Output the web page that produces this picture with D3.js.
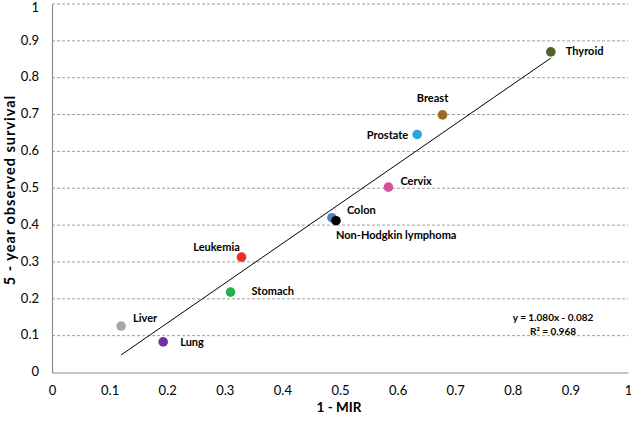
<!DOCTYPE html>
<html><head><meta charset="utf-8">
<script src="https://cdn.jsdelivr.net/npm/d3@7"></script>
<style>body{margin:0;background:#fff}svg{display:block}</style>
</head><body>
<svg id="c" width="631" height="422"></svg>
<script>
const cancers = ["Thyroid","Breast","Prostate","Cervix","Colon","Non-Hodgkin lymphoma","Leukemia","Stomach","Liver","Lung"];
const oneMinusMIR = [0.866,0.678,0.634,0.584,0.486,0.493,0.329,0.310,0.120,0.193];
const survival = [0.870,0.699,0.646,0.503,0.420,0.412,0.313,0.218,0.126,0.083];
const colors = ["#4f6228","#9c6a26","#2aa7e0","#d9509c","#4f81bd","#000000","#ee2c2c","#22b14c","#a6a6a6","#7030a0"];
const ticks = [0,0.1,0.2,0.3,0.4,0.5,0.6,0.7,0.8,0.9,1];
const slope = 1.080, intercept = -0.082;
const eqText = ["y = 1.080x - 0.082", "R\u00B2 = 0.968"];
// label placement: [dx, dy, anchor]
const labelPos = [[15,0,"start"],[-10,-16,"middle"],[-9,2,"end"],[12,-5,"start"],[15,-7,"start"],[0,15,"start"],[-25,-9,"middle"],[21,0,"start"],[12,-7,"start"],[17,1,"start"]];

const svg = d3.select("#c");
const L=52, R=628, T=4, B=372.5;
const x = d3.scaleLinear().domain([0,1]).range([L,R]);
const y = d3.scaleLinear().domain([0,1]).range([B,T]);
const font = "Lato, 'Open Sans', sans-serif";
const fmt = d => String(+d.toFixed(1));

// gridlines
svg.append("g").selectAll("line").data(ticks.filter(t=>t>0)).join("line")
  .attr("x1",L).attr("x2",R).attr("y1",d=>y(d)).attr("y2",d=>y(d))
  .attr("stroke","#a0a0a0").attr("stroke-width",1).attr("stroke-dasharray","3,2");

// axes
const xa = svg.append("g").attr("transform",`translate(0,${B})`)
  .call(d3.axisBottom(x).tickValues(ticks).tickSize(0).tickFormat(fmt));
xa.selectAll("text").attr("y",19.5).attr("dy",null).attr("dominant-baseline","middle");
const ya = svg.append("g").attr("transform",`translate(${L},0)`)
  .call(d3.axisLeft(y).tickValues(ticks).tickSize(0).tickPadding(13).tickFormat(fmt));
ya.selectAll("text").attr("dy",null).attr("dominant-baseline","middle").attr("y",d=>d===1?4:0);
[xa,ya].forEach(a=>{
  a.select(".domain").attr("stroke","#8c8c8c").attr("stroke-width",1.2);
  a.selectAll("text").attr("font-family",font).attr("font-size",13).attr("fill","#000");
});

// trendline
const x0=d3.min(oneMinusMIR), x1=d3.max(oneMinusMIR);
svg.append("line").attr("x1",x(x0)).attr("y1",y(slope*x0+intercept))
  .attr("x2",x(x1)).attr("y2",y(slope*x1+intercept))
  .attr("stroke","#000").attr("stroke-width",1);

// points
const idx = d3.range(cancers.length);
svg.append("g").selectAll("circle").data(idx).join("circle")
  .attr("cx",i=>x(oneMinusMIR[i])).attr("cy",i=>y(survival[i])).attr("r",4.8)
  .attr("fill",i=>colors[i]);

// labels
svg.append("g").selectAll("text").data(idx).join("text")
  .attr("x",i=>x(oneMinusMIR[i])+labelPos[i][0]).attr("y",i=>y(survival[i])+labelPos[i][1])
  .attr("text-anchor",i=>labelPos[i][2]).attr("dominant-baseline","middle")
  .attr("font-family",font).attr("font-weight","bold").attr("font-size",11).attr("fill","#000")
  .text(i=>cancers[i]);

// equation
svg.append("g").selectAll("text").data(eqText).join("text")
  .attr("x",553).attr("y",(d,i)=>318+i*14).attr("text-anchor","middle").attr("dominant-baseline","middle")
  .attr("font-family",font).attr("font-weight","bold").attr("font-size",10).text(d=>d);

// axis titles
svg.append("text").attr("x",339).attr("y",409).attr("text-anchor","middle").attr("dominant-baseline","middle")
  .attr("font-family",font).attr("font-weight","bold").attr("font-size",13.5).text("1 - MIR");
svg.append("text").attr("transform",`translate(11,190) rotate(-90)`).attr("text-anchor","middle").attr("dominant-baseline","middle")
  .attr("font-family",font).attr("font-weight","bold").attr("font-size",14.5).attr("letter-spacing",1).text("5 - year observed survival");
</script>
</body></html>
